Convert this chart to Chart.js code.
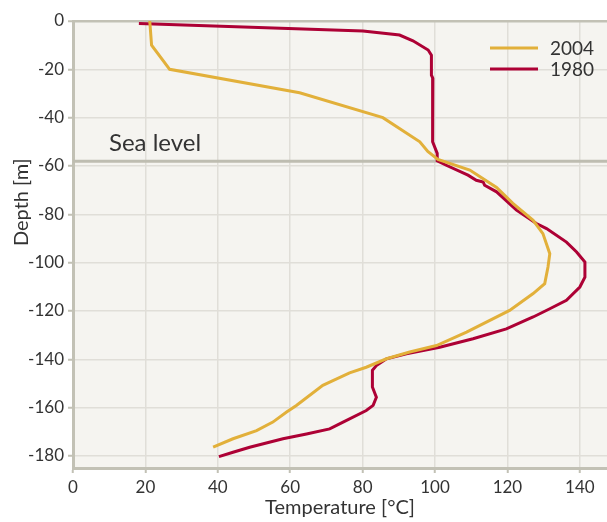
<!DOCTYPE html>
<html>
<head>
<meta charset="utf-8">
<script src="https://cdn.jsdelivr.net/npm/chart.js@4.4.1/dist/chart.umd.min.js"></script>
<style>
  html, body { margin: 0; padding: 0; background: #ffffff; }
  #wrap { width: 607px; height: 522px; }
</style>
</head>
<body>
<div id="wrap"><canvas id="profileChart" width="607" height="522"></canvas></div>
<script>
// Temperature profile data (temperature in °C, depth in m)
const temp2004 = [21.2, 21.7, 26.7, 62.6, 85.6, 95.8, 98, 100.8, 109.6, 117, 121.5, 127.1, 129.8, 131.7, 131.2, 130.3, 127.1, 120.6, 108.7, 100.4, 93, 86.6, 81, 76.4, 71.8, 69, 61.7, 58.9, 55.2, 50.7, 44.2, 38.7];
const depth2004 = [0, -10, -20, -29.7, -40, -50, -54, -57.3, -61.7, -68.9, -75.5, -82.5, -88, -96.3, -101.8, -108.7, -112.8, -119.8, -128.8, -134.3, -137, -139.8, -143.3, -145.6, -148.8, -150.8, -159.1, -161.9, -166, -169.5, -172.9, -176.4];

const temp1980 = [18.2, 80.1, 90.2, 93.9, 98.1, 99, 99, 99.4, 99.2, 99.4, 99.4, 100.6, 100.6, 103.1, 109.1, 111.4, 113.3, 113.7, 117, 122.5, 128, 130.8, 136.3, 139.1, 141.4, 141.4, 140, 136.3, 131.7, 127.1, 119.7, 110.5, 101.3, 92.1, 86.6, 83.8, 82.7, 82.7, 83.8, 82.9, 81, 74.6, 70.9, 64.5, 58, 48.8, 44.2, 40.3];
const depth1980 = [-1, -4.1, -5.8, -8.2, -12, -14.1, -22.4, -23.7, -26.5, -32.7, -50, -54.8, -57.9, -59.7, -63.8, -65.9, -66.6, -68, -70.7, -78.3, -83.8, -85.9, -91.5, -95.6, -99.8, -106, -110.1, -115.6, -119.1, -122.5, -127.4, -131.5, -135, -137.7, -139.8, -142.6, -144.6, -151.5, -155.7, -159.1, -161.2, -166, -168.8, -170.9, -172.9, -176.4, -178.5, -180.3];

const seaLevel = -58;
const seaLabel = 'Sea level';
const depthTitle = 'Depth [m]';

const toPoints = (xs, ys) => xs.map((x, i) => ({ x: x, y: ys[i] }));

const FONT = 'Lato, "Open Sans", sans-serif';
const AXIS_COLOR = '#c2c1b5';
const GRID_COLOR = '#e0ded8';
const TEXT_COLOR = '#333333';

// plot background, sea level line, depth title and the legend
const decorations = {
    id: 'decorations',
    beforeDraw(chart) {
        const { ctx, chartArea: a } = chart;
        ctx.save();
        ctx.fillStyle = '#f5f4f0';
        ctx.fillRect(a.left, a.top, a.right - a.left, a.bottom - a.top);
        ctx.restore();
    },
    beforeDatasetsDraw(chart) {
        const { ctx, chartArea: a, scales } = chart;
        const y = scales.y.getPixelForValue(seaLevel);
        ctx.save();
        ctx.strokeStyle = '#bebdb1';
        ctx.lineWidth = 3;
        ctx.beginPath();
        ctx.moveTo(a.left, y);
        ctx.lineTo(a.right, y);
        ctx.stroke();
        ctx.fillStyle = TEXT_COLOR;
        ctx.font = '24px ' + FONT;
        ctx.textBaseline = 'alphabetic';
        ctx.fillText(seaLabel, a.left + 36, y - 10);
        ctx.restore();
    },
    afterDraw(chart) {
        const { ctx, chartArea: a, scales } = chart;
        ctx.save();
        // y axis title, sits a little above the middle like the original
        ctx.translate(22, scales.y.getPixelForValue(-75));
        ctx.rotate(-Math.PI / 2);
        ctx.font = '20px ' + FONT;
        ctx.fillStyle = TEXT_COLOR;
        ctx.textAlign = 'center';
        ctx.textBaseline = 'middle';
        ctx.fillText(depthTitle, 0, 0);
        ctx.restore();

        ctx.save();
        ctx.font = '19px ' + FONT;
        ctx.textBaseline = 'middle';
        chart.data.datasets.forEach((ds, i) => {
            const y = a.top + 27 + i * 21;
            const x0 = a.right - 117;
            ctx.strokeStyle = ds.borderColor;
            ctx.lineWidth = 3;
            ctx.beginPath();
            ctx.moveTo(x0, y);
            ctx.lineTo(x0 + 48, y);
            ctx.stroke();
            ctx.fillStyle = TEXT_COLOR;
            ctx.fillText(ds.label, x0 + 60, y + 1);
        });
        ctx.restore();
    }
};

const ctx = document.getElementById('profileChart').getContext('2d');
new Chart(ctx, {
    type: 'scatter',
    data: {
        datasets: [{
            label: '2004',
            data: toPoints(temp2004, depth2004),
            borderColor: '#e2b03a',
            borderWidth: 3,
            showLine: true,
            pointRadius: 0,
            tension: 0
        }, {
            label: '1980',
            data: toPoints(temp1980, depth1980),
            borderColor: '#ad0135',
            borderWidth: 3,
            showLine: true,
            pointRadius: 0,
            tension: 0
        }]
    },
    options: {
        responsive: false,
        animation: false,
        layout: { padding: { top: 21, right: 0, left: 0, bottom: 0 } },
        scales: {
            x: {
                type: 'linear',
                min: 0,
                max: 147.5,
                ticks: {
                    stepSize: 20,
                    includeBounds: false,
                    color: TEXT_COLOR,
                    font: { family: FONT, size: 17 },
                    padding: 4,
                    maxRotation: 0
                },
                grid: {
                    color: GRID_COLOR,
                    lineWidth: 1.5,
                    tickColor: AXIS_COLOR,
                    tickLength: 5,
                    tickWidth: 2
                },
                border: { color: AXIS_COLOR, width: 3 },
                title: {
                    display: true,
                    text: 'Temperature [°C]',
                    color: TEXT_COLOR,
                    font: { family: FONT, size: 20 },
                    padding: { top: 0, bottom: 2 }
                },
                afterFit(scale) { scale.height = 54; }
            },
            y: {
                type: 'linear',
                min: -185,
                max: 0,
                ticks: {
                    stepSize: 20,
                    includeBounds: false,
                    color: TEXT_COLOR,
                    font: { family: FONT, size: 17 },
                    padding: 4
                },
                grid: {
                    color: c => (c.tick && c.tick.value === 0 ? AXIS_COLOR : GRID_COLOR),
                    lineWidth: c => (c.tick && c.tick.value === 0 ? 2.5 : 1.5),
                    tickColor: AXIS_COLOR,
                    tickLength: 5,
                    tickWidth: 2
                },
                border: { color: AXIS_COLOR, width: 3 },
                title: { display: false },
                afterFit(scale) { scale.width = 73; }
            }
        },
        plugins: {
            legend: { display: false },
            tooltip: { enabled: false }
        }
    },
    plugins: [decorations]
});
</script>
</body>
</html>
